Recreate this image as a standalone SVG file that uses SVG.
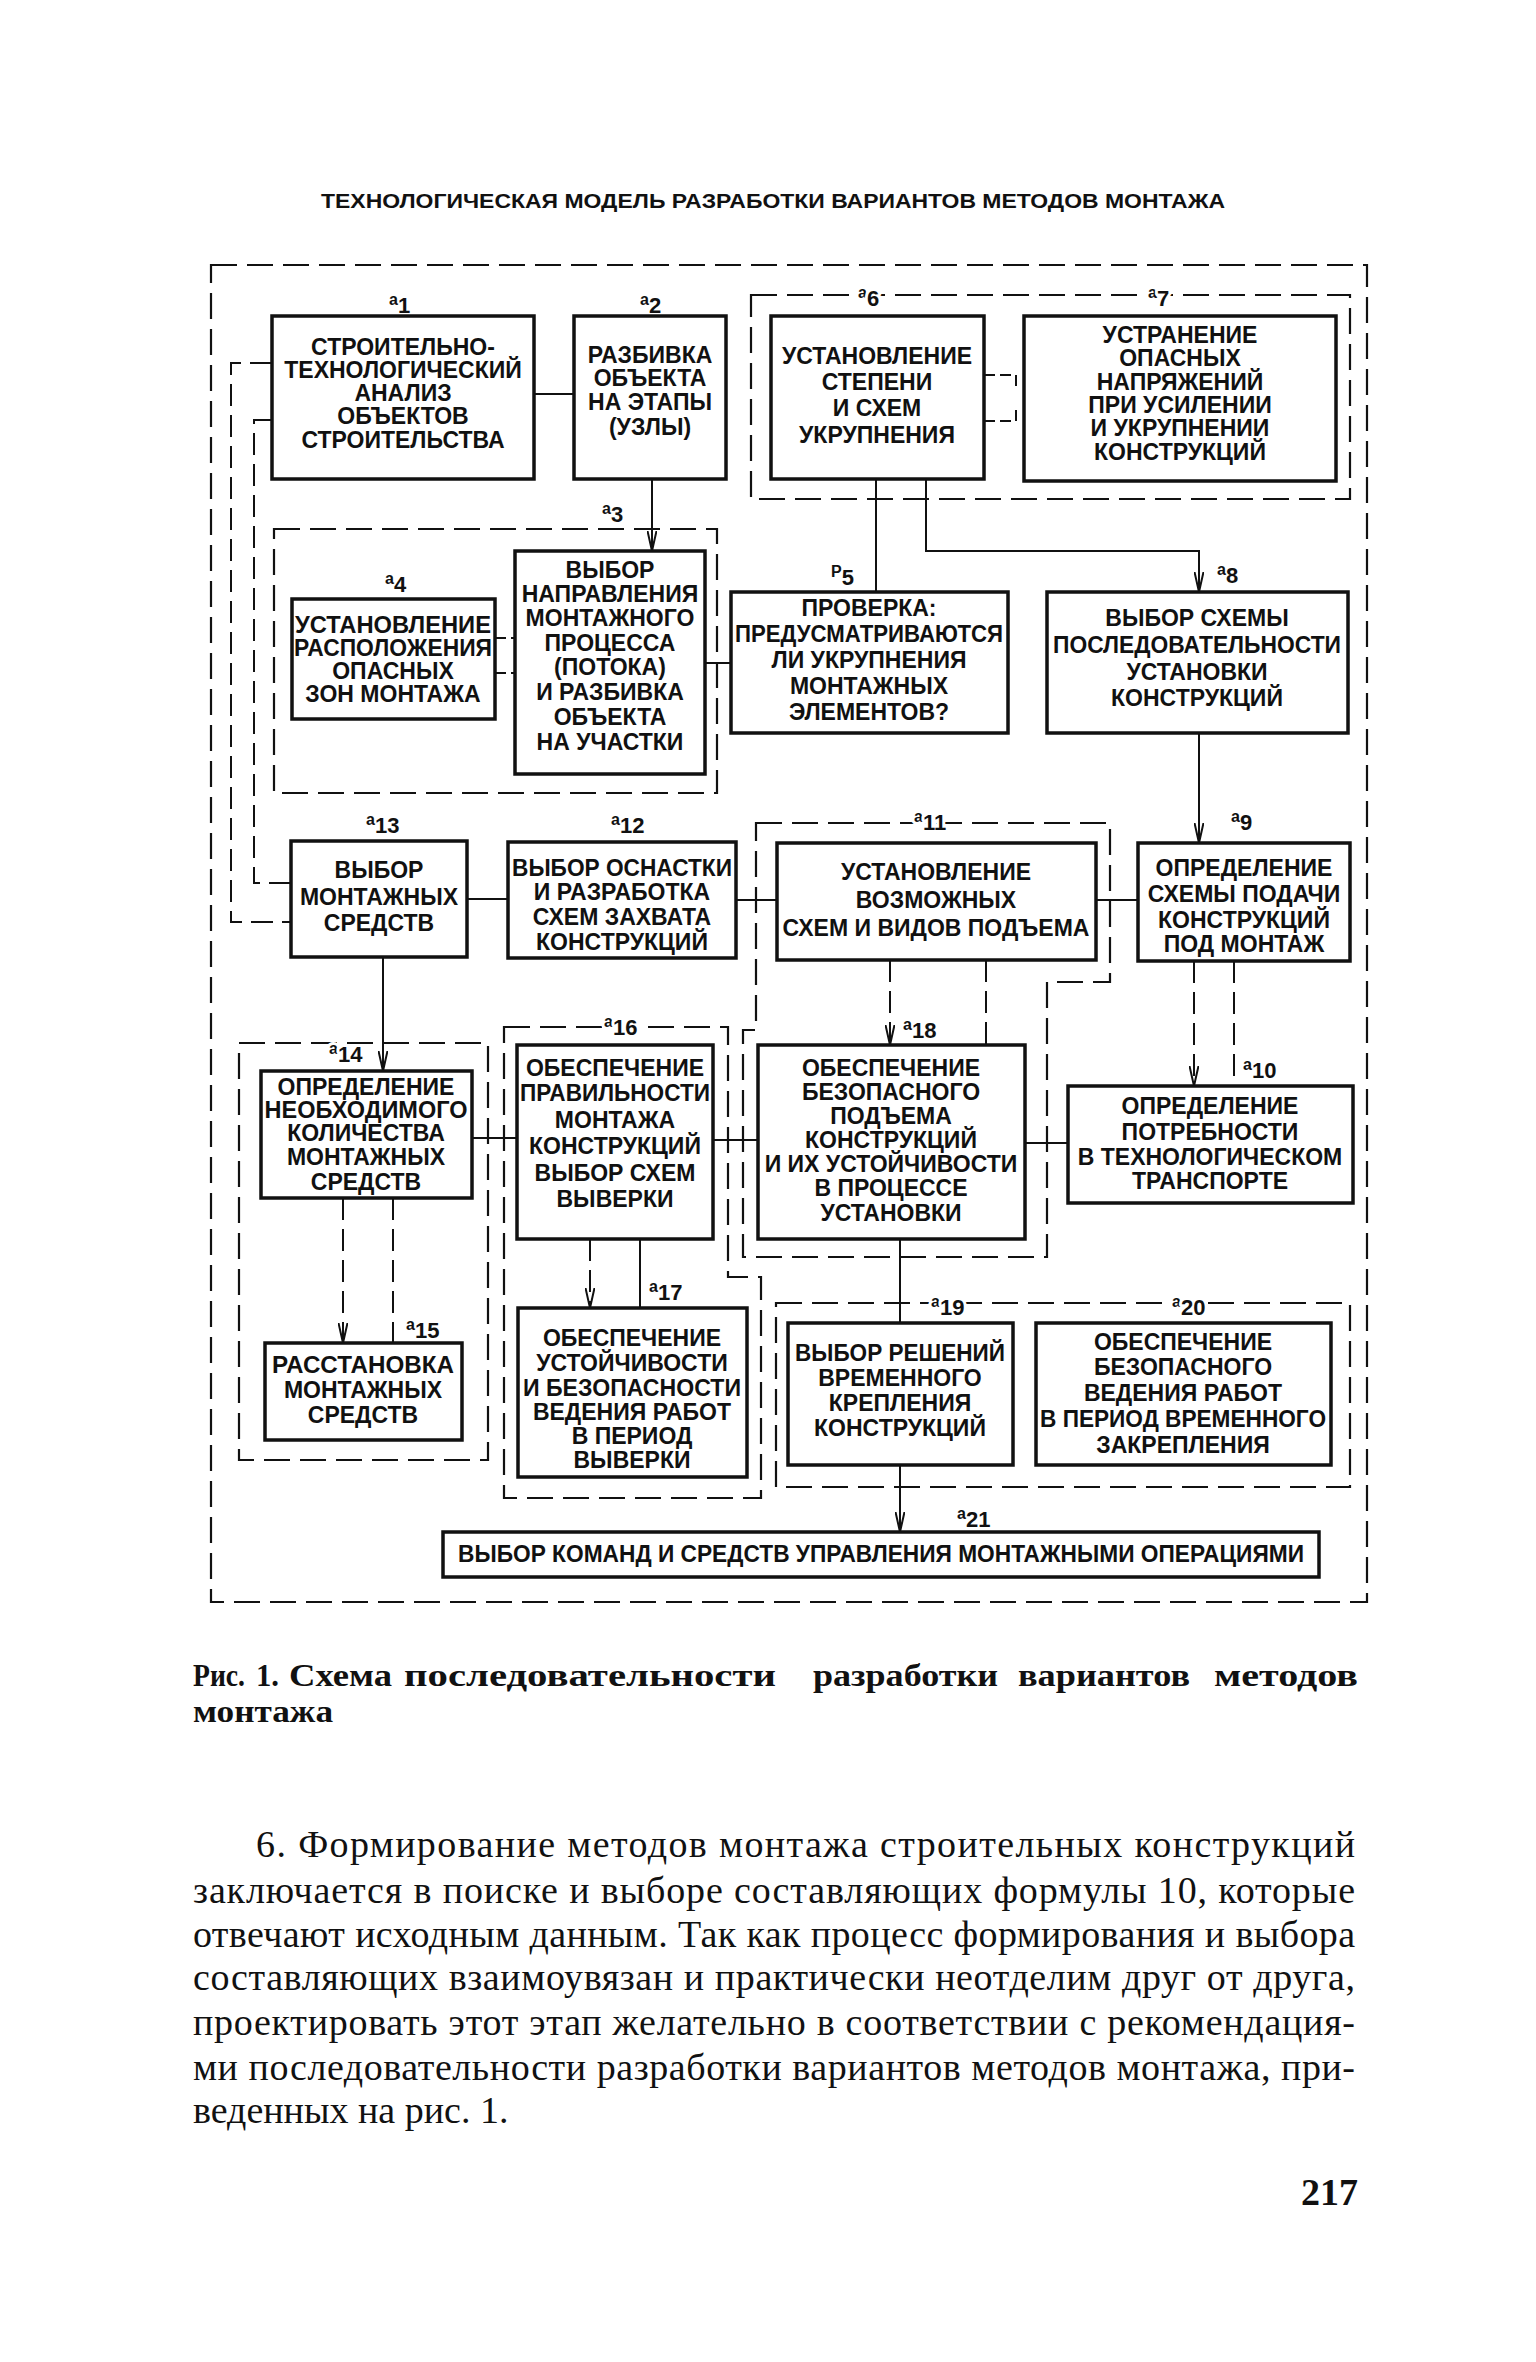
<svg xmlns="http://www.w3.org/2000/svg" width="1536" height="2362" viewBox="0 0 1536 2362">
<style>
.bx{fill:#fff;stroke:#111;stroke-width:3.5}
.fr{fill:none;stroke:#111;stroke-width:2.2;stroke-dasharray:26 10}
.ln{fill:none;stroke:#111;stroke-width:2}
.dl{fill:none;stroke:#111;stroke-width:2;stroke-dasharray:22 9}
.ds{fill:none;stroke:#111;stroke-width:2;stroke-dasharray:11 5}
.t{font-family:"Liberation Sans",Arial,sans-serif;font-weight:bold;font-size:23px;text-anchor:middle;fill:#111}
.lb{font-family:"Liberation Sans",Arial,sans-serif;font-weight:bold;font-size:16px;fill:#111}
.lb tspan{font-size:22px}
.halo{paint-order:stroke;stroke:#fff;stroke-width:6px;stroke-linejoin:round}
.ttl{font-family:"Liberation Sans",Arial,sans-serif;font-weight:bold;font-size:21px;fill:#111}
.cap{font-family:"Liberation Serif","Times New Roman",serif;font-weight:bold;font-size:32px;fill:#111}
.body{font-family:"Liberation Serif","Times New Roman",serif;font-size:38px;fill:#111}
.pg{font-family:"Liberation Serif","Times New Roman",serif;font-weight:bold;font-size:38px;fill:#111}
</style>
<defs>
<marker id="ar" viewBox="0 0 20 10" refX="20" refY="5" markerWidth="20" markerHeight="10" markerUnits="userSpaceOnUse" orient="auto">
<path d="M0,0.5 L20,5 L0,9.5" fill="none" stroke="#111" stroke-width="2"/>
</marker>
</defs>
<rect width="1536" height="2362" fill="#fff"/>
<text class="ttl" x="321" y="208" textLength="904" lengthAdjust="spacingAndGlyphs">ТЕХНОЛОГИЧЕСКАЯ МОДЕЛЬ РАЗРАБОТКИ ВАРИАНТОВ МЕТОДОВ МОНТАЖА</text>

<g id="frames">
<rect class="fr" x="211" y="265" width="1156" height="1337"/>
<rect class="fr" x="751" y="295" width="599" height="204"/>
<rect class="fr" x="274" y="529" width="443" height="264"/>
<path class="fr" d="M756 823H1110V982H1047V1257H743V1030H756Z"/>
<path class="fr" d="M504 1027H728V1277H761V1498H504Z"/>
<rect class="fr" x="239" y="1043" width="249" height="417"/>
<rect class="fr" x="776" y="1303" width="574" height="184"/>
</g>

<g id="connectors">
<path class="ln" d="M534 394H574"/>
<path class="ln" d="M652 479V551" marker-end="url(#ar)"/>
<path class="ln" d="M876 479V592"/>
<path class="ln" d="M926 479V551H1199V592" marker-end="url(#ar)"/>
<path class="ln" d="M705 663H731"/>
<path class="ln" d="M1199 733V843" marker-end="url(#ar)"/>
<path class="ln" d="M467 899H508"/>
<path class="ln" d="M736 900H777"/>
<path class="ln" d="M1096 900H1138"/>
<path class="ln" d="M383 957V1071" marker-end="url(#ar)"/>
<path class="ln" d="M472 1138H517"/>
<path class="ln" d="M713 1140H758"/>
<path class="ln" d="M1025 1143H1068"/>
<path class="ln" d="M900 1239V1323"/>
<path class="ln" d="M900 1465V1532" marker-end="url(#ar)"/>
<path class="ln" d="M640 1239V1308"/>
<path class="dl" d="M590 1239V1308" marker-end="url(#ar)"/>
<path class="dl" d="M343 1198V1343" marker-end="url(#ar)"/>
<path class="dl" d="M393 1198V1343"/>
<path class="dl" d="M890 960V1045" marker-end="url(#ar)"/>
<path class="dl" d="M986 960V1045"/>
<path class="dl" d="M1194 961V1086" marker-end="url(#ar)"/>
<path class="dl" d="M1234 961V1086"/>
<path class="dl" d="M272 363H231V922H291"/>
<path class="dl" d="M272 420H254V883H291"/>
<path class="ds" d="M984 375H1016V390M984 421H1016V406"/>
<path class="ds" d="M495 638H515M495 673H515"/>
</g>

<g id="n-a1">
<rect class="bx" x="272" y="316" width="262" height="163"/>
<text class="t"><tspan x="403" y="355">СТРОИТЕЛЬНО-</tspan><tspan x="403" y="378">ТЕХНОЛОГИЧЕСКИЙ</tspan><tspan x="403" y="401">АНАЛИЗ</tspan><tspan x="403" y="424">ОБЪЕКТОВ</tspan><tspan x="403" y="448">СТРОИТЕЛЬСТВА</tspan></text>
<text class="lb" x="389" y="305">a<tspan dy="8">1</tspan></text>
</g>
<g id="n-a2">
<rect class="bx" x="574" y="316" width="152" height="163"/>
<text class="t"><tspan x="650" y="363">РАЗБИВКА</tspan><tspan x="650" y="386">ОБЪЕКТА</tspan><tspan x="650" y="410">НА ЭТАПЫ</tspan><tspan x="650" y="435">(УЗЛЫ)</tspan></text>
<text class="lb" x="640" y="305">a<tspan dy="8">2</tspan></text>
</g>
<g id="n-a6">
<rect class="bx" x="771" y="316" width="213" height="163"/>
<text class="t"><tspan x="877" y="364">УСТАНОВЛЕНИЕ</tspan><tspan x="877" y="390">СТЕПЕНИ</tspan><tspan x="877" y="416">И СХЕМ</tspan><tspan x="877" y="443">УКРУПНЕНИЯ</tspan></text>
<text class="lb halo" x="858" y="298">a<tspan dy="8">6</tspan></text>
</g>
<g id="n-a7">
<rect class="bx" x="1024" y="316" width="312" height="165"/>
<text class="t"><tspan x="1180" y="343">УСТРАНЕНИЕ</tspan><tspan x="1180" y="366">ОПАСНЫХ</tspan><tspan x="1180" y="390">НАПРЯЖЕНИЙ</tspan><tspan x="1180" y="413">ПРИ УСИЛЕНИИ</tspan><tspan x="1180" y="436">И УКРУПНЕНИИ</tspan><tspan x="1180" y="460">КОНСТРУКЦИЙ</tspan></text>
<text class="lb halo" x="1148" y="298">a<tspan dy="8">7</tspan></text>
</g>
<g id="n-a4">
<rect class="bx" x="292" y="599" width="203" height="120"/>
<text class="t"><tspan x="393" y="633" textLength="196" lengthAdjust="spacingAndGlyphs">УСТАНОВЛЕНИЕ</tspan><tspan x="393" y="656" textLength="198" lengthAdjust="spacingAndGlyphs">РАСПОЛОЖЕНИЯ</tspan><tspan x="393" y="679">ОПАСНЫХ</tspan><tspan x="393" y="702">ЗОН МОНТАЖА</tspan></text>
<text class="lb" x="385" y="584">a<tspan dy="8">4</tspan></text>
</g>
<g id="n-a3">
<rect class="bx" x="515" y="551" width="190" height="223"/>
<text class="t"><tspan x="610" y="578">ВЫБОР</tspan><tspan x="610" y="602">НАПРАВЛЕНИЯ</tspan><tspan x="610" y="626">МОНТАЖНОГО</tspan><tspan x="610" y="651">ПРОЦЕССА</tspan><tspan x="610" y="675">(ПОТОКА)</tspan><tspan x="610" y="700">И РАЗБИВКА</tspan><tspan x="610" y="725">ОБЪЕКТА</tspan><tspan x="610" y="750">НА УЧАСТКИ</tspan></text>
<text class="lb" x="602" y="514">a<tspan dy="8">3</tspan></text>
</g>
<g id="n-p5">
<rect class="bx" x="731" y="592" width="277" height="141"/>
<text class="t"><tspan x="869" y="616">ПРОВЕРКА:</tspan><tspan x="869" y="642" textLength="268" lengthAdjust="spacingAndGlyphs">ПРЕДУСМАТРИВАЮТСЯ</tspan><tspan x="869" y="668">ЛИ УКРУПНЕНИЯ</tspan><tspan x="869" y="694">МОНТАЖНЫХ</tspan><tspan x="869" y="720">ЭЛЕМЕНТОВ?</tspan></text>
<text class="lb" x="831" y="577">P<tspan dy="8">5</tspan></text>
</g>
<g id="n-a8">
<rect class="bx" x="1047" y="592" width="301" height="141"/>
<text class="t"><tspan x="1197" y="626">ВЫБОР СХЕМЫ</tspan><tspan x="1197" y="653" textLength="288" lengthAdjust="spacingAndGlyphs">ПОСЛЕДОВАТЕЛЬНОСТИ</tspan><tspan x="1197" y="680">УСТАНОВКИ</tspan><tspan x="1197" y="706">КОНСТРУКЦИЙ</tspan></text>
<text class="lb" x="1217" y="575">a<tspan dy="8">8</tspan></text>
</g>
<g id="n-a13">
<rect class="bx" x="291" y="841" width="176" height="116"/>
<text class="t"><tspan x="379" y="878">ВЫБОР</tspan><tspan x="379" y="905">МОНТАЖНЫХ</tspan><tspan x="379" y="931">СРЕДСТВ</tspan></text>
<text class="lb" x="366" y="825">a<tspan dy="8">13</tspan></text>
</g>
<g id="n-a12">
<rect class="bx" x="508" y="842" width="228" height="116"/>
<text class="t"><tspan x="622" y="876" textLength="220" lengthAdjust="spacingAndGlyphs">ВЫБОР ОСНАСТКИ</tspan><tspan x="622" y="900">И РАЗРАБОТКА</tspan><tspan x="622" y="925">СХЕМ ЗАХВАТА</tspan><tspan x="622" y="950">КОНСТРУКЦИЙ</tspan></text>
<text class="lb" x="611" y="825">a<tspan dy="8">12</tspan></text>
</g>
<g id="n-a11">
<rect class="bx" x="777" y="843" width="319" height="117"/>
<text class="t"><tspan x="936" y="880">УСТАНОВЛЕНИЕ</tspan><tspan x="936" y="908">ВОЗМОЖНЫХ</tspan><tspan x="936" y="936">СХЕМ И ВИДОВ ПОДЪЕМА</tspan></text>
<text class="lb halo" x="914" y="822">a<tspan dy="8">11</tspan></text>
</g>
<g id="n-a9">
<rect class="bx" x="1138" y="843" width="212" height="118"/>
<text class="t"><tspan x="1244" y="876">ОПРЕДЕЛЕНИЕ</tspan><tspan x="1244" y="902">СХЕМЫ ПОДАЧИ</tspan><tspan x="1244" y="928">КОНСТРУКЦИЙ</tspan><tspan x="1244" y="952">ПОД МОНТАЖ</tspan></text>
<text class="lb" x="1231" y="822">a<tspan dy="8">9</tspan></text>
</g>
<g id="n-a14">
<rect class="bx" x="261" y="1071" width="211" height="127"/>
<text class="t"><tspan x="366" y="1095">ОПРЕДЕЛЕНИЕ</tspan><tspan x="366" y="1118" textLength="203" lengthAdjust="spacingAndGlyphs">НЕОБХОДИМОГО</tspan><tspan x="366" y="1141">КОЛИЧЕСТВА</tspan><tspan x="366" y="1165">МОНТАЖНЫХ</tspan><tspan x="366" y="1190">СРЕДСТВ</tspan></text>
<text class="lb halo" x="329" y="1054">a<tspan dy="8">14</tspan></text>
</g>
<g id="n-a16">
<rect class="bx" x="517" y="1045" width="196" height="194"/>
<text class="t"><tspan x="615" y="1076">ОБЕСПЕЧЕНИЕ</tspan><tspan x="615" y="1101" textLength="190" lengthAdjust="spacingAndGlyphs">ПРАВИЛЬНОСТИ</tspan><tspan x="615" y="1128">МОНТАЖА</tspan><tspan x="615" y="1154">КОНСТРУКЦИЙ</tspan><tspan x="615" y="1181">ВЫБОР СХЕМ</tspan><tspan x="615" y="1207">ВЫВЕРКИ</tspan></text>
<text class="lb halo" x="604" y="1027">a<tspan dy="8">16</tspan></text>
</g>
<g id="n-a18">
<rect class="bx" x="758" y="1045" width="267" height="194"/>
<text class="t"><tspan x="891" y="1076">ОБЕСПЕЧЕНИЕ</tspan><tspan x="891" y="1100">БЕЗОПАСНОГО</tspan><tspan x="891" y="1124">ПОДЪЕМА</tspan><tspan x="891" y="1148">КОНСТРУКЦИЙ</tspan><tspan x="891" y="1172">И ИХ УСТОЙЧИВОСТИ</tspan><tspan x="891" y="1196">В ПРОЦЕССЕ</tspan><tspan x="891" y="1221">УСТАНОВКИ</tspan></text>
<text class="lb" x="903" y="1030">a<tspan dy="8">18</tspan></text>
</g>
<g id="n-a10">
<rect class="bx" x="1068" y="1086" width="285" height="117"/>
<text class="t"><tspan x="1210" y="1114">ОПРЕДЕЛЕНИЕ</tspan><tspan x="1210" y="1140">ПОТРЕБНОСТИ</tspan><tspan x="1210" y="1165">В ТЕХНОЛОГИЧЕСКОМ</tspan><tspan x="1210" y="1189">ТРАНСПОРТЕ</tspan></text>
<text class="lb" x="1243" y="1070">a<tspan dy="8">10</tspan></text>
</g>
<g id="n-a15">
<rect class="bx" x="265" y="1343" width="197" height="97"/>
<text class="t"><tspan x="363" y="1373" textLength="182" lengthAdjust="spacingAndGlyphs">РАССТАНОВКА</tspan><tspan x="363" y="1398">МОНТАЖНЫХ</tspan><tspan x="363" y="1423">СРЕДСТВ</tspan></text>
<text class="lb" x="406" y="1330">a<tspan dy="8">15</tspan></text>
</g>
<g id="n-a17">
<rect class="bx" x="518" y="1308" width="229" height="169"/>
<text class="t"><tspan x="632" y="1346">ОБЕСПЕЧЕНИЕ</tspan><tspan x="632" y="1371">УСТОЙЧИВОСТИ</tspan><tspan x="632" y="1396" textLength="218" lengthAdjust="spacingAndGlyphs">И БЕЗОПАСНОСТИ</tspan><tspan x="632" y="1420">ВЕДЕНИЯ РАБОТ</tspan><tspan x="632" y="1444">В ПЕРИОД</tspan><tspan x="632" y="1468">ВЫВЕРКИ</tspan></text>
<text class="lb" x="649" y="1292">a<tspan dy="8">17</tspan></text>
</g>
<g id="n-a19">
<rect class="bx" x="788" y="1323" width="225" height="142"/>
<text class="t"><tspan x="900" y="1361" textLength="210" lengthAdjust="spacingAndGlyphs">ВЫБОР РЕШЕНИЙ</tspan><tspan x="900" y="1386">ВРЕМЕННОГО</tspan><tspan x="900" y="1411">КРЕПЛЕНИЯ</tspan><tspan x="900" y="1436">КОНСТРУКЦИЙ</tspan></text>
<text class="lb halo" x="931" y="1307">a<tspan dy="8">19</tspan></text>
</g>
<g id="n-a20">
<rect class="bx" x="1036" y="1323" width="295" height="142"/>
<text class="t"><tspan x="1183" y="1350">ОБЕСПЕЧЕНИЕ</tspan><tspan x="1183" y="1375">БЕЗОПАСНОГО</tspan><tspan x="1183" y="1401">ВЕДЕНИЯ РАБОТ</tspan><tspan x="1183" y="1427" textLength="286" lengthAdjust="spacingAndGlyphs">В ПЕРИОД ВРЕМЕННОГО</tspan><tspan x="1183" y="1453">ЗАКРЕПЛЕНИЯ</tspan></text>
<text class="lb halo" x="1172" y="1307">a<tspan dy="8">20</tspan></text>
</g>
<g id="n-a21">
<rect class="bx" x="443" y="1532" width="876" height="45"/>
<text class="t" x="881" y="1562" textLength="846" lengthAdjust="spacingAndGlyphs">ВЫБОР КОМАНД И СРЕДСТВ УПРАВЛЕНИЯ МОНТАЖНЫМИ ОПЕРАЦИЯМИ</text>
<text class="lb" x="957" y="1519">a<tspan dy="8">21</tspan></text>
</g>

<g id="caption">
<text class="cap" y="1686"><tspan x="193" textLength="52" lengthAdjust="spacingAndGlyphs">Рис.</tspan><tspan x="256" textLength="23" lengthAdjust="spacingAndGlyphs">1.</tspan><tspan x="289" textLength="103" lengthAdjust="spacingAndGlyphs">Схема</tspan><tspan x="404" textLength="372" lengthAdjust="spacingAndGlyphs">последовательности</tspan><tspan x="813" textLength="185" lengthAdjust="spacingAndGlyphs">разработки</tspan><tspan x="1018" textLength="172" lengthAdjust="spacingAndGlyphs">вариантов</tspan><tspan x="1214" textLength="144" lengthAdjust="spacingAndGlyphs">методов</tspan></text>
<text class="cap" x="193" y="1722" textLength="140" lengthAdjust="spacingAndGlyphs">монтажа</text>
</g>
<g id="body">
<text class="body" x="256" y="1857" textLength="1099">6. Формирование методов монтажа строительных конструкций</text>
<text class="body" x="193" y="1903" textLength="1162">заключается в поиске и выборе составляющих формулы 10, которые</text>
<text class="body" x="193" y="1947" textLength="1162">отвечают исходным данным. Так как процесс формирования и выбора</text>
<text class="body" x="193" y="1990" textLength="1162">составляющих взаимоувязан и практически неотделим друг от друга,</text>
<text class="body" x="193" y="2035" textLength="1162">проектировать этот этап желательно в соответствии с рекомендация-</text>
<text class="body" x="193" y="2080" textLength="1162">ми последовательности разработки вариантов методов монтажа, при-</text>
<text class="body" x="193" y="2123">веденных на рис. 1.</text>
<text class="pg" x="1358" y="2205" text-anchor="end">217</text>
</g>
</svg>
